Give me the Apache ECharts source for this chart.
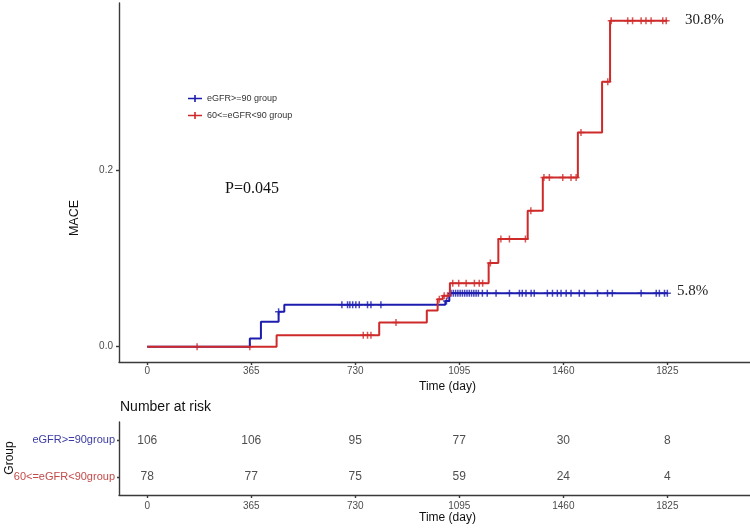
<!DOCTYPE html>
<html>
<head>
<meta charset="utf-8">
<script src="https://cdn.jsdelivr.net/npm/echarts@6/dist/echarts.min.js"></script>
<style>html,body{margin:0;padding:0;background:#fff}#c{width:750px;height:530px}</style>
</head>
<body>
<div id="c"></div>
<script>
// ---- data ----
const groups = ['eGFR>=90 group', '60<=eGFR<90 group'];
const xTicks = [0, 365, 730, 1095, 1460, 1825];
const yTicks = [0, 0.2];
// cumulative MACE (step curves)
const blueTimes = [0, 360, 399, 461, 481, 1046, 1060, 1825];
const blueRisk  = [0, 0.0094, 0.0284, 0.0398, 0.0477, 0.052, 0.0606, 0.0606];
const redTimes  = [0, 454, 814, 981, 1019, 1037, 1062, 1198, 1232, 1335, 1388, 1511, 1596, 1624, 1825];
const redRisk   = [0, 0.013, 0.0276, 0.041, 0.054, 0.058, 0.072, 0.095, 0.1223, 0.1545, 0.1924, 0.2435, 0.301, 0.3705, 0.3705];
// censoring times
const blueCensor = [461, 683, 703, 711, 721, 732, 744, 773, 785, 820, 1050, 1066, 1074, 1082, 1090, 1098, 1106, 1114, 1122, 1130, 1138, 1146, 1154, 1162, 1176, 1193, 1224, 1271, 1306, 1316, 1329, 1347, 1358, 1404, 1422, 1439, 1452, 1470, 1487, 1516, 1534, 1580, 1615, 1632, 1733, 1786, 1797, 1815, 1825];
const redCensor = [175, 360, 758, 773, 785, 873, 1025, 1042, 1054, 1072, 1093, 1119, 1148, 1165, 1177, 1204, 1241, 1271, 1327, 1346, 1392, 1411, 1458, 1487, 1505, 1522, 1616, 1628, 1686, 1703, 1733, 1750, 1768, 1809, 1821];
const finalLabels = ['5.8%', '30.8%'];
const pValue = 'P=0.045';
// number at risk
const riskRows = ['eGFR>=90group', '60<=eGFR<90group'];
const riskTimes = [0, 365, 730, 1095, 1460, 1825];
const riskHigh = [106, 106, 95, 77, 30, 8];
const riskLow  = [78, 77, 75, 59, 24, 4];

// ---- helpers ----
function stepAt(times, vals, t) {
  let v = vals[0];
  for (let i = 0; i < times.length; i++) { if (times[i] <= t) v = vals[i]; }
  return v;
}
const BLUE = '#1c1caf', RED = '#cf2a2a';
const SANS = "'Liberation Sans', Arial, sans-serif";
const SERIF = "'Liberation Serif', 'Times New Roman', serif";
const plus = 'path://M-0.75,-3.5H0.75V-0.75H3.5V0.75H0.75V3.5H-0.75V0.75H-3.5V-0.75H-0.75Z';
const legIcon = 'path://M0,3.3H14V4.7H0ZM6.2,0.5H7.8V7.5H6.2Z';
const axisLineStyle = { color: '#3a3a3a', width: 1.4 };
const X_MIN = -99, X_MAX = 2115;

const chart = echarts.init(document.getElementById('c'), null, { renderer: 'canvas' });
const option = {
  animation: false,
  backgroundColor: '#fff',
  grid: [
    { left: 119, top: 3, width: 631, height: 359 },
    { left: 119, top: 422, width: 631, height: 73 }
  ],
  legend: {
    left: 183, top: 89, orient: 'vertical', itemWidth: 14, itemHeight: 8, itemGap: 8,
    textStyle: { fontFamily: SANS, fontSize: 9, color: '#333' },
    data: [
      { name: groups[0], icon: legIcon, itemStyle: { color: BLUE } },
      { name: groups[1], icon: legIcon, itemStyle: { color: RED } }
    ]
  },
  xAxis: [
    {
      gridIndex: 0, type: 'value', min: X_MIN, max: X_MAX,
      splitLine: { show: false },
      axisLine: { show: true, onZero: false, lineStyle: axisLineStyle },
      axisTick: { show: true, length: 3, lineStyle: axisLineStyle, customValues: xTicks },
      axisLabel: { customValues: xTicks, margin: 4, fontFamily: SANS, fontSize: 10, color: '#4d4d4d',
        formatter: v => String(v) },
      name: 'Time (day)', nameLocation: 'middle', nameGap: 14,
      nameTextStyle: { fontFamily: SANS, fontSize: 12, color: '#111', padding: [0, 0, 0, 26] }
    },
    {
      gridIndex: 1, type: 'value', min: X_MIN, max: X_MAX,
      splitLine: { show: false },
      axisLine: { show: true, onZero: false, lineStyle: axisLineStyle },
      axisTick: { show: true, length: 3, lineStyle: axisLineStyle, customValues: riskTimes },
      axisLabel: { customValues: riskTimes, margin: 6, fontFamily: SANS, fontSize: 10, color: '#4d4d4d',
        formatter: v => String(v) },
      name: 'Time (day)', nameLocation: 'middle', nameGap: 16,
      nameTextStyle: { fontFamily: SANS, fontSize: 12, color: '#111', padding: [0, 0, 0, 26] }
    }
  ],
  yAxis: [
    {
      gridIndex: 0, type: 'value', min: -0.0174, max: 0.3906,
      splitLine: { show: false },
      axisLine: { show: true, onZero: false, lineStyle: axisLineStyle },
      axisTick: { show: true, length: 3, lineStyle: axisLineStyle, customValues: yTicks },
      axisLabel: { customValues: yTicks, margin: 6, fontFamily: SANS, fontSize: 10, color: '#4d4d4d',
        formatter: v => v.toFixed(1) }
    },
    {
      gridIndex: 1, type: 'category', data: [riskRows[1], riskRows[0]],
      axisLine: { show: true, onZero: false, lineStyle: axisLineStyle },
      axisTick: { show: true, length: 2, alignWithLabel: true, lineStyle: axisLineStyle },
      axisLabel: {
        margin: 4, fontFamily: SANS, fontSize: 11,
        formatter: v => (v === riskRows[0] ? '{b|' + v + '}' : '{r|' + v + '}'),
        rich: {
          b: { color: '#3b3ba3', fontFamily: SANS, fontSize: 11 },
          r: { color: '#c44a4a', fontFamily: SANS, fontSize: 11 }
        }
      }
    }
  ],
  series: [
    {
      name: groups[0], type: 'line', step: 'end', xAxisIndex: 0, yAxisIndex: 0,
      data: blueTimes.map((t, i) => [t, blueRisk[i]]),
      showSymbol: false, lineStyle: { color: BLUE, width: 2 }, itemStyle: { color: BLUE }
    },
    {
      name: groups[1], type: 'line', step: 'end', xAxisIndex: 0, yAxisIndex: 0,
      data: redTimes.map((t, i) => [t, redRisk[i]]),
      showSymbol: false, lineStyle: { color: RED, width: 2 }, itemStyle: { color: RED }
    },
    {
      name: groups[0], type: 'scatter', xAxisIndex: 0, yAxisIndex: 0,
      symbol: plus, symbolSize: [7, 7],
      data: blueCensor.map(t => [t, stepAt(blueTimes, blueRisk, t)]),
      itemStyle: { color: BLUE }
    },
    {
      name: groups[1], type: 'scatter', xAxisIndex: 0, yAxisIndex: 0,
      symbol: plus, symbolSize: [7, 7],
      data: redCensor.map(t => [t, stepAt(redTimes, redRisk, t)]),
      itemStyle: { color: RED }
    },
    {
      type: 'scatter', xAxisIndex: 1, yAxisIndex: 1, symbolSize: 1,
      itemStyle: { color: 'rgba(0,0,0,0)' },
      data: riskTimes.map((t, i) => [t, riskRows[0], riskHigh[i]])
        .concat(riskTimes.map((t, i) => [t, riskRows[1], riskLow[i]])),
      label: { show: true, position: 'inside', formatter: p => String(p.value[2]),
        fontFamily: SANS, fontSize: 12, color: '#222' }
    }
  ],
  graphic: [
    { type: 'text', left: 685, top: 13, style: { text: finalLabels[1], font: '15px ' + SERIF, fill: '#222' } },
    { type: 'text', left: 677, top: 284, style: { text: finalLabels[0], font: '15px ' + SERIF, fill: '#222' } },
    { type: 'text', left: 225, top: 181, style: { text: pValue, font: '16px ' + SERIF, fill: '#111' } },
    { type: 'text', x: 75, y: 218, rotation: Math.PI / 2,
      style: { text: 'MACE', font: '12.5px ' + SANS, fill: '#111', textAlign: 'center', textVerticalAlign: 'middle' } },
    { type: 'text', left: 120, top: 400, style: { text: 'Number at risk', font: '14px ' + SANS, fill: '#111' } },
    { type: 'text', x: 10, y: 458, rotation: Math.PI / 2,
      style: { text: 'Group', font: '12px ' + SANS, fill: '#111', textAlign: 'center', textVerticalAlign: 'middle' } }
  ]
};
chart.setOption(option);
</script>
</body>
</html>
